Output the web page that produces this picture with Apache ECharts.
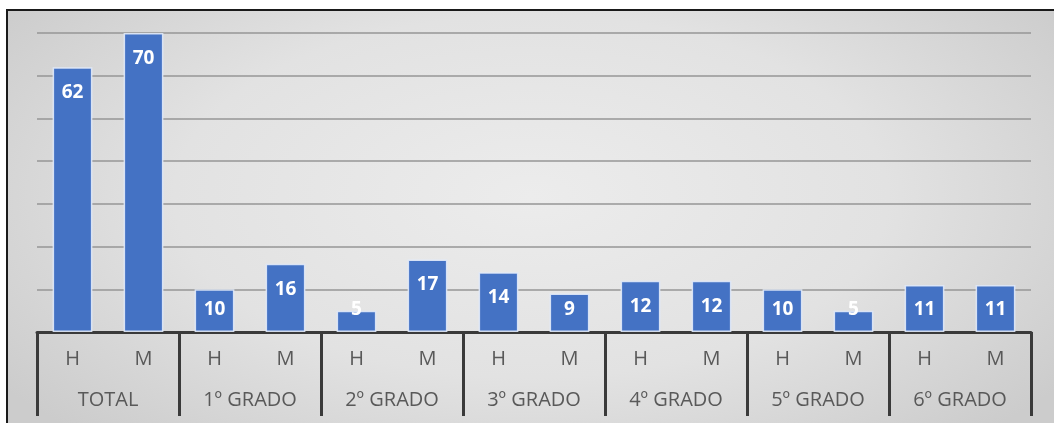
<!DOCTYPE html>
<html>
<head>
<meta charset="utf-8">
<script src="https://cdn.jsdelivr.net/npm/echarts@6/dist/echarts.min.js"></script>
<style>
  html, body { margin: 0; padding: 0; background: #ffffff; width: 1054px; height: 423px; overflow: hidden; }
  #frame {
    position: absolute; left: 6px; top: 9px; width: 1048px; height: 414px;
    border-top: 2px solid #1a1a1a; border-left: 2px solid #1a1a1a; box-sizing: border-box;
    background: radial-gradient(ellipse 62% 80% at 50% 45%, #ececec 0%, #e2e2e2 55%, #cccccc 100%);
  }
  #chart { position: absolute; left: 0; top: 0; width: 1046px; height: 412px; }
</style>
</head>
<body>
<div id="frame"><div id="chart"></div></div>
<script>
// ---- data ----
const subCategories = ['H', 'M', 'H', 'M', 'H', 'M', 'H', 'M', 'H', 'M', 'H', 'M', 'H', 'M'];
const groups = ['TOTAL', '1º GRADO', '2º GRADO', '3º GRADO', '4º GRADO', '5º GRADO', '6º GRADO'];
const values = [62, 70, 10, 16, 5, 17, 14, 9, 12, 12, 10, 5, 11, 11];
const yTicks = { min: 0, max: 70, interval: 10 };

const chart = echarts.init(document.getElementById('chart'), null, { renderer: 'canvas' });

const barData = values.map(v => (v < 12
  ? { value: v, label: { position: 'insideBottom', distance: 13 } }
  : { value: v }));

chart.setOption({
  animation: false,
  backgroundColor: 'transparent',
  grid: { left: 29, right: 23, top: 22, bottom: 91, containLabel: false },
  xAxis: [
    {
      type: 'category',
      data: subCategories,
      position: 'bottom',
      axisLine: { show: true, lineStyle: { color: '#3a3a3a', width: 3 } },
      axisTick: { show: false },
      axisLabel: { color: '#595959', fontSize: 20, fontFamily: 'Open Sans', margin: 17, interval: 0 },
      splitLine: { show: false }
    },
    {
      type: 'category',
      data: groups,
      position: 'bottom',
      axisLine: { show: false },
      axisTick: { show: true, length: 84, interval: 0, lineStyle: { color: '#3a3a3a', width: 3 } },
      axisLabel: { color: '#595959', fontSize: 20, fontFamily: 'Open Sans', margin: 58, interval: 0 },
      splitLine: { show: false }
    }
  ],
  yAxis: {
    type: 'value',
    min: yTicks.min, max: yTicks.max, interval: yTicks.interval,
    axisLine: { show: false },
    axisTick: { show: false },
    axisLabel: { show: false },
    splitLine: { show: true, lineStyle: { color: '#969696', width: 1.5 } }
  },
  series: [{
    type: 'bar',
    xAxisIndex: 0,
    data: barData,
    barWidth: '56%',
    itemStyle: { color: '#4472C4', borderColor: 'rgba(225,234,250,0.9)', borderWidth: 1.5 },
    label: {
      show: true,
      position: 'insideTop',
      distance: 16,
      color: '#ffffff',
      fontSize: 19,
      fontWeight: 'bold',
      fontFamily: 'Open Sans'
    }
  }]
});
</script>
</body>
</html>
